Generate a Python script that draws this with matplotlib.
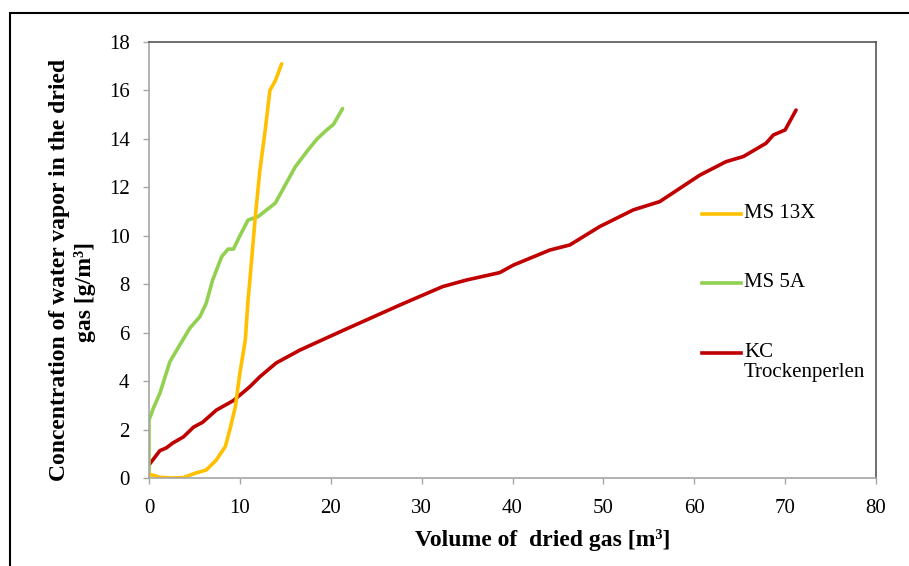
import matplotlib
matplotlib.use('Agg')
import matplotlib.pyplot as plt
from matplotlib.patches import Rectangle
from matplotlib.lines import Line2D

plt.rcParams['font.family'] = ['Liberation Serif', 'DejaVu Serif']

# MS 13X
x_13x = [0, 1.2, 2.5, 3.8, 5.1, 6.3, 7.4, 8.4, 8.9, 9.5, 10.0, 10.6, 10.9, 11.1,
         11.7, 12.2, 12.8, 13.3, 13.9, 14.6]
y_13x = [0.16, 0.03, 0.0, 0.02, 0.2, 0.33, 0.74, 1.3, 2.0, 2.94, 4.33, 5.7, 7.35, 8.17,
         10.8, 12.7, 14.4, 16.0, 16.4, 17.1]

# MS 5A
x_5a = [0, 0, 0.5, 1.2, 2.3, 3.4, 4.5, 5.6, 6.3, 7.0, 8.0, 8.7, 9.3, 10.0, 10.9, 12.0,
        13.9, 15.0, 16.1, 17.5, 18.5, 19.5, 20.3, 21.3]
y_5a = [0, 2.4, 2.9, 3.5, 4.8, 5.5, 6.19, 6.66, 7.22, 8.17, 9.14, 9.45, 9.45, 10.0, 10.65, 10.79,
        11.35, 12.1, 12.85, 13.54, 14.0, 14.35, 14.6, 15.25]

# KC Trockenperlen
x_kc = [0, 1.2, 1.9, 2.6, 3.8, 4.9, 5.9, 7.4, 9.3, 11.1, 12.2, 14.0, 16.6, 21.4, 27.6,
        32.3, 34.9, 38.6, 40.1, 44.1, 46.3, 49.6, 53.3, 56.2, 60.6, 63.5, 65.4, 67.9,
        68.7, 70.0, 71.2]
y_kc = [0.54, 1.13, 1.24, 1.44, 1.7, 2.1, 2.3, 2.8, 3.2, 3.77, 4.18, 4.75, 5.28, 6.1, 7.14,
        7.9, 8.17, 8.48, 8.79, 9.41, 9.62, 10.38, 11.07, 11.41, 12.5, 13.06, 13.27, 13.82,
        14.16, 14.37, 15.19]

labels = ['MS 13X', 'MS 5A', 'KC\nTrockenperlen']
colors = ['#FFC000', '#92D050', '#C00000']

fig = plt.figure(figsize=(9.09, 5.66), dpi=100)
ax = fig.add_axes([149 / 909, 1 - 478 / 566, (876 - 149) / 909, (478 - 42) / 566])

ax.plot(x_kc, y_kc, color=colors[2], lw=2.6, solid_capstyle='round')
ax.plot(x_5a, y_5a, color=colors[1], lw=2.6, solid_capstyle='round')
ax.plot(x_13x, y_13x, color=colors[0], lw=2.6, solid_capstyle='round')

ax.set_xlim(0, 80)
ax.set_ylim(0, 18)
ax.set_xticks(range(0, 81, 10))
ax.set_yticks(range(0, 19, 2))

for side in ['left', 'bottom']:
    ax.spines[side].set_color('#a6a6a6')
    ax.spines[side].set_linewidth(1.2)
for side in ['top', 'right']:
    ax.spines[side].set_color('#555555')
    ax.spines[side].set_linewidth(1.2)

ax.tick_params(axis='both', direction='out', length=4, width=1, color='#a6a6a6',
               labelsize=15)
ax.tick_params(axis='y', pad=10)
ax.tick_params(axis='x', pad=11)

fig.text(543 / 909, 1 - 540 / 566, 'Volume of  dried gas [m³]', ha='center', va='center',
         fontsize=17, fontweight='bold')
# y label, two lines as in the original
fig.text(60 / 909, 1 - 270 / 566, 'Concentration of water vapor in the dried',
         ha='center', va='center', rotation=90, fontsize=17, fontweight='bold')
fig.text(85 / 909, 1 - 292 / 566, 'gas [g/m³]',
         ha='center', va='center', rotation=90, fontsize=17, fontweight='bold')

# legend drawn by hand to keep the line next to the first text line
leg_y = [214, 283, 353]
for lab, col, yy in zip(labels, colors, leg_y):
    fy = 1 - yy / 566
    fig.add_artist(Line2D([702 / 909, 741 / 909], [fy, fy], color=col, lw=2.6,
                          transform=fig.transFigure))
    fig.text(744 / 909, fy + 10 / 566, lab, ha='left', va='top', fontsize=15,
             linespacing=1.05)

# outer frame
fig.add_artist(Rectangle((10 / 909, -0.1), 1.2, 1.1 - 13 / 566, transform=fig.transFigure,
                         fill=False, edgecolor='black', lw=1.5))

fig.savefig('out.png', dpi=100)
